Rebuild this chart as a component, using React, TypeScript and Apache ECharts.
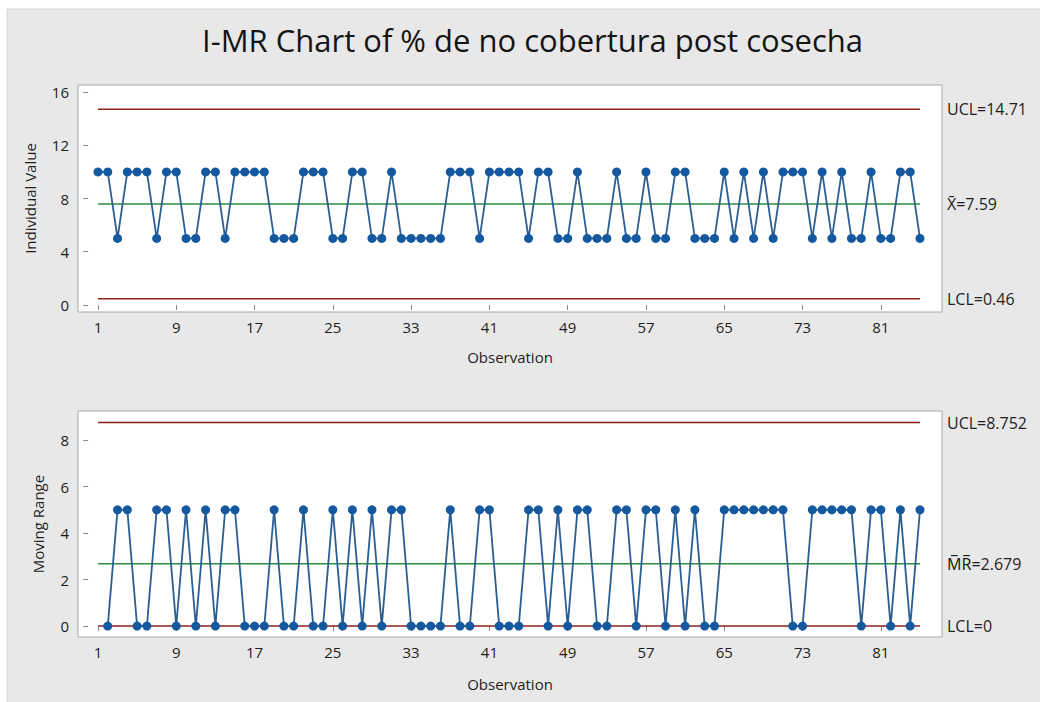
import React, { useEffect, useRef } from "react";
import * as echarts from "echarts";

const title = "I-MR Chart of % de no cobertura post cosecha";

// Individual observations 1..85
const individualValues = [
  10, 10, 5, 10, 10, 10, 5, 10, 10, 5,
  5, 10, 10, 5, 10, 10, 10, 10, 5, 5,
  5, 10, 10, 10, 5, 5, 10, 10, 5, 5,
  10, 5, 5, 5, 5, 5, 10, 10, 10, 5,
  10, 10, 10, 10, 5, 10, 10, 5, 5, 10,
  5, 5, 5, 10, 5, 5, 10, 5, 5, 10,
  10, 5, 5, 5, 10, 5, 10, 5, 10, 5,
  10, 10, 10, 5, 10, 5, 10, 5, 5, 10,
  5, 5, 10, 10, 5,
];

// Moving ranges for observations 2..85
const movingRanges = [
  0, 5, 5, 0, 0, 5, 5, 0, 5,
  0, 5, 0, 5, 5, 0, 0, 0, 5, 0,
  0, 5, 0, 0, 5, 0, 5, 0, 5, 0,
  5, 5, 0, 0, 0, 0, 5, 0, 0, 5,
  5, 0, 0, 0, 5, 5, 0, 5, 0, 5,
  5, 0, 0, 5, 5, 0, 5, 5, 0, 5,
  0, 5, 0, 0, 5, 5, 5, 5, 5, 5,
  5, 0, 0, 5, 5, 5, 5, 5, 0, 5,
  5, 0, 5, 0, 5,
];

const xTicks = [1, 9, 17, 25, 33, 41, 49, 57, 65, 73, 81];
const iTicks = [0, 4, 8, 12, 16];
const mrTicks = [0, 2, 4, 6, 8];

const iUCL = 14.71;
const iCenter = 7.588;
const iLCL = 0.46;
const mrUCL = 8.752;
const mrCenter = 2.679;
const mrLCL = 0;

const iLabels = ["UCL=14.71", "X\u0304=7.59", "LCL=0.46"];
const mrLabels = ["UCL=8.752", "M\u0305R\u0305=2.679", "LCL=0"];

const FONT = "'Open Sans', 'Noto Sans', 'DejaVu Sans', sans-serif";
const BLUE = "#1458a0";
const LINE_BLUE = "#2b5f94";
const RED = "#8c1f1f";
const GREEN = "#2e8b3f";
const TEXT = "#1e1e1e";
const TICK_FS = 15;
const NAME_FS = 15;
const LIMIT_FS = 16;

export default function App() {
  const ref = useRef<HTMLDivElement>(null);

  useEffect(() => {
    document.body.style.margin = "0";
    if (!ref.current) return;
    const chart = echarts.init(ref.current, undefined, { renderer: "svg" });

    const firstObs = 1;
    const lastObs = individualValues.length;
    const iData = individualValues.map((v, i) => [i + 1, v]);
    const mrData = movingRanges.map((v, i) => [i + 2, v]);

    const xAxisBase = (gridIndex: number, nameGap: number) => ({
      type: "value",
      gridIndex,
      min: -1.04,
      max: 87.25,
      name: "Observation",
      nameLocation: "middle",
      nameGap,
      nameTextStyle: { fontFamily: FONT, fontSize: NAME_FS, color: TEXT },
      axisLine: { show: false },
      splitLine: { show: false },
      axisTick: {
        show: true,
        customValues: xTicks,
        length: 5,
        lineStyle: { color: "#8a8a8a" },
      },
      axisLabel: {
        customValues: xTicks,
        fontFamily: FONT,
        fontSize: TICK_FS,
        color: TEXT,
        margin: 7,
      },
    });

    const yAxisBase = (
      gridIndex: number,
      name: string,
      nameGap: number,
      min: number,
      max: number,
      ticks: number[]
    ) => ({
      type: "value",
      gridIndex,
      min,
      max,
      name,
      nameLocation: "middle",
      nameGap,
      nameTextStyle: { fontFamily: FONT, fontSize: NAME_FS, color: TEXT },
      axisLine: { show: false },
      splitLine: { show: false },
      axisTick: {
        show: true,
        customValues: ticks,
        length: 5,
        lineStyle: { color: "#8a8a8a" },
      },
      axisLabel: {
        customValues: ticks,
        fontFamily: FONT,
        fontSize: TICK_FS,
        color: TEXT,
        margin: 9,
      },
    });

    const limitSeries = (
      value: number,
      color: string,
      label: string,
      xAxisIndex: number,
      yAxisIndex: number
    ) => ({
      type: "line",
      xAxisIndex,
      yAxisIndex,
      data: [
        [firstObs, value],
        [lastObs, value],
      ],
      symbol: "none",
      silent: true,
      lineStyle: { color, width: 1.5 },
      endLabel: {
        show: true,
        formatter: label,
        distance: 27,
        fontFamily: FONT,
        fontSize: LIMIT_FS,
        color: TEXT,
      },
      z: 2,
    });

    const dataSeries = (data: number[][], idx: number) => ({
      type: "line",
      xAxisIndex: idx,
      yAxisIndex: idx,
      data,
      symbol: "circle",
      symbolSize: 9,
      itemStyle: { color: BLUE },
      lineStyle: { color: LINE_BLUE, width: 1.8 },
      z: 3,
    });

    chart.setOption({
      animation: false,
      backgroundColor: "#ffffff",
      graphic: [
        {
          type: "rect",
          z: -10,
          silent: true,
          shape: { x: 7, y: 9, width: 1040, height: 700 },
          style: { fill: "#e8e8e8", stroke: "#d4d4d4", lineWidth: 1 },
        },
      ],
      title: {
        text: title,
        left: 197,
        top: 19,
        textStyle: {
          fontFamily: FONT,
          fontSize: 31,
          fontWeight: "normal",
          color: "#151515",
        },
      },
      grid: [
        {
          left: 78,
          top: 85,
          width: 864,
          height: 227,
          show: true,
          backgroundColor: "#ffffff",
          borderColor: "#a8a8a8",
          borderWidth: 1,
        },
        {
          left: 78,
          top: 411,
          width: 864,
          height: 226,
          show: true,
          backgroundColor: "#ffffff",
          borderColor: "#a8a8a8",
          borderWidth: 1,
        },
      ],
      xAxis: [xAxisBase(0, 37), xAxisBase(1, 39)],
      yAxis: [
        yAxisBase(0, "Individual Value", 41, -0.53, 16.53, iTicks),
        yAxisBase(1, "Moving Range", 33, -0.47, 9.25, mrTicks),
      ],
      series: [
        limitSeries(iUCL, RED, iLabels[0], 0, 0),
        limitSeries(iCenter, GREEN, iLabels[1], 0, 0),
        limitSeries(iLCL, RED, iLabels[2], 0, 0),
        dataSeries(iData, 0),
        limitSeries(mrUCL, RED, mrLabels[0], 1, 1),
        limitSeries(mrCenter, GREEN, mrLabels[1], 1, 1),
        limitSeries(mrLCL, RED, mrLabels[2], 1, 1),
        dataSeries(mrData, 1),
      ],
    });

    return () => chart.dispose();
  }, []);

  return <div ref={ref} style={{ width: 1040, height: 702 }} />;
}
